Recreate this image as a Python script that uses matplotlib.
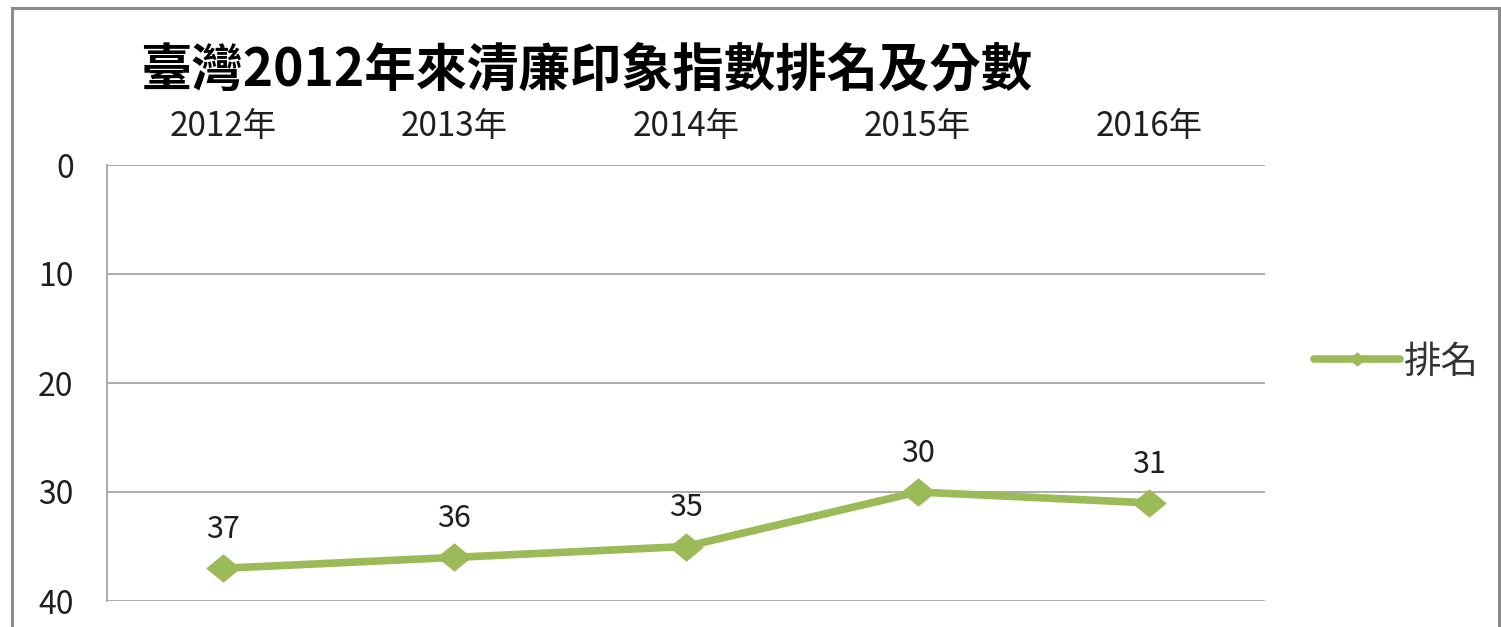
import matplotlib
matplotlib.use("Agg")
import matplotlib.pyplot as plt
from matplotlib.patches import Rectangle

plt.rcParams['font.family'] = ['Noto Sans CJK TC', 'DejaVu Sans']

years = ["2012年", "2013年", "2014年", "2015年", "2016年"]
rank = [37, 36, 35, 30, 31]
yticks = [0, 10, 20, 30, 40]
title = "臺灣2012年來清廉印象指數排名及分數"
series_name = "排名"

green = "#9BBB59"
grid_c = "#A6A6A6"
text_c = "#1F1F1F"

fig = plt.figure(figsize=(15.01, 6.27), dpi=100)
ax = fig.add_axes([107/1501, 1-601/627, (1265-107)/1501, (601-165)/627])

x = list(range(len(years)))
diamond = [(-1, 0), (0, 0.82), (1, 0), (0, -0.82), (-1, 0)]
ax.plot(x, rank, color=green, lw=5.5, marker=diamond, ms=25,
        markeredgewidth=0, solid_capstyle="round", label=series_name, zorder=3)

for xi, v in zip(x, rank):
    ax.annotate(str(v), (xi, v), xytext=(0, 28), textcoords="offset points",
                ha="center", va="center", fontsize=22, color=text_c)

ax.set_xlim(-0.5, len(years) - 0.5)
ax.set_ylim(40, 0)
ax.set_yticks(yticks)
ax.set_xticks(x)
ax.set_xticklabels(years)
ax.xaxis.tick_top()
ax.tick_params(axis="x", length=0, pad=15, labelsize=24, labelcolor=text_c)
ax.tick_params(axis="y", length=0, pad=24, labelsize=23, labelcolor=text_c)
for lab in ax.get_yticklabels():
    lab.set_horizontalalignment("right")

ax.grid(axis="y", color=grid_c, lw=1.3)
ax.set_axisbelow(True)
for s in ["top", "right", "bottom"]:
    ax.spines[s].set_visible(False)
ax.spines["left"].set_color(grid_c)
ax.spines["left"].set_linewidth(1.3)

fig.text(140/1501, 1-70/627, title, fontsize=37, fontweight="bold",
         color="black", ha="left", va="center")

leg = fig.legend(loc="center left", bbox_to_anchor=(1314/1501, 1-362/627),
                 frameon=False, fontsize=27, handlelength=2.3, handletextpad=0.1,
                 borderpad=0, borderaxespad=0, markerscale=0.5)
for t in leg.get_texts():
    t.set_color("#333333")

fig.patches.append(Rectangle((12/1501, -0.05), (1499-12)/1501, 1.05 - 8/627,
                             transform=fig.transFigure, fill=False,
                             edgecolor="#8C8C8C", lw=2.2))

fig.savefig("out.png", dpi=100)
